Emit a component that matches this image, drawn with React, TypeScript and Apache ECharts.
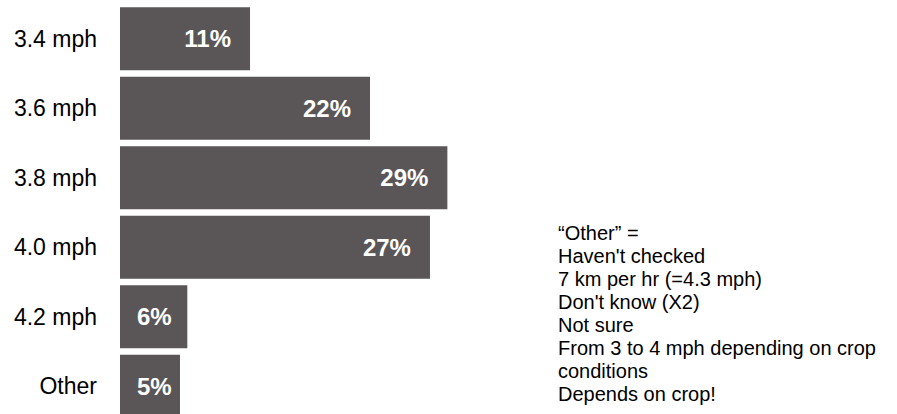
import React, { useEffect, useRef } from "react";
import * as echarts from "echarts";

const categories = ["3.4 mph", "3.6 mph", "3.8 mph", "4.0 mph", "4.2 mph", "Other"];
const values = [11.36, 21.84, 28.6, 27.08, 5.88, 5.24];
const noteLines = [
  "\u201COther\u201D =",
  "Haven't checked",
  "7 km per hr (=4.3 mph)",
  "Don't know (X2)",
  "Not sure",
  "From 3 to 4 mph depending on crop",
  "conditions",
  "Depends on crop!",
];

export default function App() {
  const ref = useRef<HTMLDivElement>(null);
  useEffect(() => {
    document.body.style.margin = "0";
    const chart = echarts.init(ref.current!, null, { renderer: "svg" });
    chart.setOption({
      animation: false,
      grid: { left: 120, top: 4, width: 343.4, height: 417 },
      xAxis: {
        type: "value",
        min: 0,
        max: 30,
        show: false,
      },
      yAxis: {
        type: "category",
        inverse: true,
        data: categories,
        axisLine: { show: false },
        axisTick: { show: false },
        axisLabel: {
          color: "#000",
          fontSize: 23,
          fontFamily: "Liberation Sans",
          margin: 23,
        },
      },
      series: [
        {
          type: "bar",
          barWidth: 63,
          itemStyle: { color: "#5a5657" },
          data: values.map((v) => ({
            value: v,
            label:
              v > 10
                ? { position: "insideRight", distance: 19 }
                : { position: "insideLeft", distance: 17 },
          })),
          label: {
            show: true,
            color: "#fff",
            fontWeight: "bold",
            fontSize: 24,
            fontFamily: "Liberation Sans",
            formatter: (p: any) => Math.round(p.value) + "%",
          },
        },
      ],
      graphic: [
        {
          type: "text",
          left: 558,
          top: 221,
          style: {
            text: noteLines.join("\n"),
            fontSize: 20,
            lineHeight: 23,
            fontFamily: "Liberation Sans",
            fill: "#000",
          },
        },
      ],
    });
    return () => chart.dispose();
  }, []);
  return (
    <div style={{ width: 897, height: 414, overflow: "hidden" }}>
      <div ref={ref} style={{ width: 897, height: 424 }} />
    </div>
  );
}
